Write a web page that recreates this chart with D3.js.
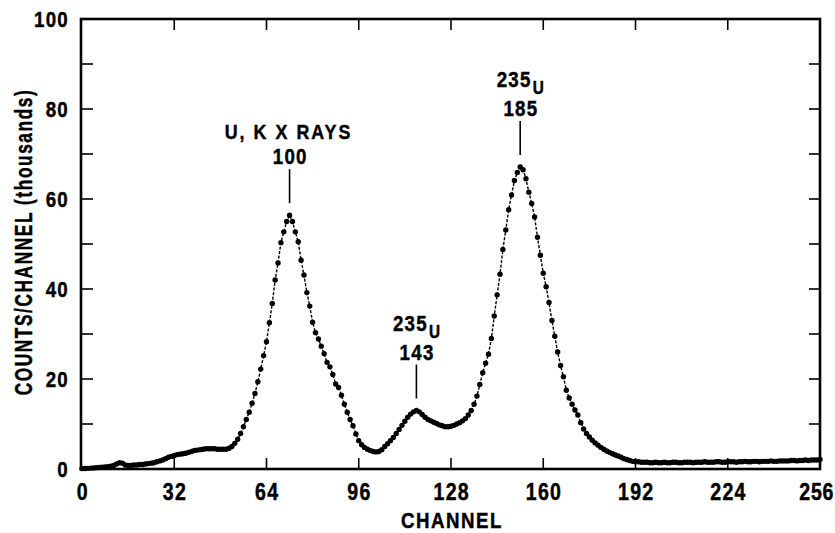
<!DOCTYPE html>
<html>
<head>
<meta charset="utf-8">
<script src="https://cdn.jsdelivr.net/npm/d3@7/dist/d3.min.js"></script>
<style>
  body { margin: 0; background: #fff; }
  text { font-family: "Liberation Sans", Arial, Helvetica, sans-serif; font-weight: bold; fill: #000; stroke: #000; stroke-width: 0.45px; }
</style>
</head>
<body>
<svg id="chart" width="835" height="533"></svg>
<script>
// Gamma spectrum: counts per channel (thousands), channels 0..256
const counts = [
  0.1, 0.1, 0.15, 0.2, 0.25, 0.3, 0.35, 0.4, 0.45, 0.5,
  0.6, 0.8, 1.1, 1.4, 1.3, 0.9, 0.8, 0.8, 0.9, 0.9,
  1.0, 1.0, 1.1, 1.2, 1.3, 1.4, 1.6, 1.8, 2.0, 2.3,
  2.6, 2.8, 3.0, 3.2, 3.3, 3.4, 3.5, 3.7, 3.9, 4.1,
  4.2, 4.3, 4.4, 4.5, 4.5, 4.5, 4.5, 4.4, 4.4, 4.4,
  4.4, 4.6, 5.0, 5.7, 6.6, 7.9, 9.4, 11.0, 12.6, 14.6,
  16.8, 19.4, 22.2, 25.2, 28.3, 32.5, 36.8, 42.0, 45.8, 50.3,
  52.7, 55.0, 56.4, 55.0, 52.7, 50.5, 46.4, 43.1, 39.2, 36.2,
  32.6, 30.3, 28.9, 27.3, 25.6, 23.7, 22.7, 21.0, 18.9, 18.1,
  16.4, 14.4, 12.6, 11.0, 9.6, 7.8, 6.3, 5.4, 4.8, 4.4,
  4.1, 3.9, 3.8, 3.9, 4.3, 5.0, 5.6, 6.3, 7.0, 7.9,
  8.8, 9.7, 10.6, 11.5, 12.2, 12.7, 13.0, 12.7, 12.1, 11.5,
  11.0, 10.7, 10.4, 10.1, 9.8, 9.6, 9.4, 9.4, 9.5, 9.7,
  10.0, 10.3, 10.7, 11.2, 12.0, 13.0, 14.4, 16.2, 18.8, 21.4,
  23.5, 25.5, 29.0, 34.0, 38.7, 43.3, 48.8, 53.1, 57.6, 60.9,
  64.1, 65.9, 67.1, 66.5, 64.5, 61.5, 59.0, 56.0, 51.5, 47.5,
  43.5, 40.5, 37.0, 33.0, 29.5, 26.0, 23.0, 20.5, 17.5, 15.8,
  14.4, 13.1, 12.0, 10.3, 8.9, 7.9, 7.1, 6.4, 5.8, 5.3,
  4.8, 4.4, 4.0, 3.7, 3.4, 3.1, 2.9, 2.6, 2.3, 2.1,
  1.9, 1.7, 1.6, 1.6, 1.5, 1.5, 1.5, 1.4, 1.4, 1.5,
  1.4, 1.4, 1.5, 1.4, 1.4, 1.5, 1.5, 1.4, 1.4, 1.5,
  1.5, 1.5, 1.4, 1.5, 1.5, 1.5, 1.6, 1.5, 1.5, 1.5,
  1.6, 1.6, 1.5, 1.5, 1.6, 1.6, 1.6, 1.5, 1.6, 1.6,
  1.7, 1.6, 1.6, 1.7, 1.7, 1.6, 1.7, 1.7, 1.7, 1.8,
  1.7, 1.7, 1.8, 1.8, 1.8, 1.8, 1.9, 1.9, 1.8, 1.9,
  1.9, 2.0, 1.9, 2.0, 2.0, 2.0, 2.1
];
const channels = counts.map((_, i) => i);

const xTicks = [0, 32, 64, 96, 128, 160, 192, 224, 256];
const yTicks = [0, 20, 40, 60, 80, 100];
const yTicksMinor = [10, 30, 50, 70, 90];

// Peak annotations: channel of the peak, first label line, energy (keV)
const peakChannels = [72, 116, 152];
const peakIsotopes = ["U, K X RAYS", "235", "235"];
const peakElements = ["", "U", "U"];
const peakEnergies = ["100", "143", "185"];

const W = 835;
const svg = d3.select("#chart");
const x = d3.scaleLinear().domain([0, 256]).range([82, 820]);
const y = d3.scaleLinear().domain([0, 100]).range([469, 19]);

const tickLen = 11;

// Condensed bold lettering: horizontally squeezed text placed at (tx, ty)
function label(parent, tx, ty, str, o) {
  const g = parent.append("g")
    .attr("transform", `translate(${tx},${ty}) ${o.rotate ? "rotate(" + o.rotate + ")" : ""} scale(${o.sx || 0.85},1)`);
  return g.append("text")
    .attr("text-anchor", o.anchor || "middle")
    .attr("font-size", o.size)
    .attr("letter-spacing", o.ls || 0)
    .text(str);
}

// frame
svg.append("rect")
  .attr("x", x(0) - 1).attr("y", y(100))
  .attr("width", x(256) - x(0) + 1).attr("height", y(0) - y(100))
  .attr("fill", "none").attr("stroke", "#000").attr("stroke-width", 2.6);

// inward ticks: bottom & top (x), left & right (y)
const axisG = svg.append("g").attr("stroke", "#000").attr("stroke-width", 1.6);
xTicks.slice(1, -1).forEach(t => {
  axisG.append("line").attr("x1", x(t)).attr("x2", x(t)).attr("y1", y(0)).attr("y2", y(0) - tickLen);
  axisG.append("line").attr("x1", x(t)).attr("x2", x(t)).attr("y1", y(100)).attr("y2", y(100) + tickLen);
});
yTicks.concat(yTicksMinor).filter(t => t > 0 && t < 100).forEach(t => {
  axisG.append("line").attr("x1", x(0)).attr("x2", x(0) + tickLen).attr("y1", y(t)).attr("y2", y(t));
  axisG.append("line").attr("x1", x(256)).attr("x2", x(256) - tickLen).attr("y1", y(t)).attr("y2", y(t));
});

// tick labels (the last one is kept inside the canvas edge)
const xLab = svg.append("g");
xTicks.forEach((t, i) => {
  if (i === xTicks.length - 1) label(xLab, W - 1, 500, t, { size: 23, ls: 0.8, anchor: "end" });
  else label(xLab, x(t) + 0.7, 500, t, { size: 23, ls: 1.5 });
});
const yLab = svg.append("g");
yTicks.forEach(t => label(yLab, 69, y(t) + 8, t, { size: 22, ls: 1.5, anchor: "end" }));

// axis titles
label(svg, x(128) + 1, 528, "CHANNEL", { size: 22, ls: 1.8 });
label(svg, 32, 242, "COUNTS/CHANNEL (thousands)", { size: 24, ls: 2.2, sx: 0.72, rotate: -90 });

// spectrum: dashed connecting line + dots
const line = d3.line().x((d, i) => x(channels[i])).y(d => y(d));
svg.append("path")
  .datum(counts)
  .attr("d", line)
  .attr("fill", "none").attr("stroke", "#000")
  .attr("stroke-width", 1.4).attr("stroke-dasharray", "3,1.6");
svg.append("g").selectAll("circle").data(counts).join("circle")
  .attr("cx", (d, i) => x(channels[i])).attr("cy", d => y(d))
  .attr("r", 2.7).attr("fill", "#000");

// peak annotations
const ann = svg.append("g");
peakChannels.forEach((ch, k) => {
  const px = x(ch), py = y(counts[ch]);
  const lineBottom = py - 12, lineTop = py - 46;
  ann.append("line")
    .attr("x1", px).attr("x2", px).attr("y1", lineTop).attr("y2", lineBottom)
    .attr("stroke", "#000").attr("stroke-width", 1.6);
  label(ann, px + 0.7, lineTop - 5, peakEnergies[k], { size: 22, ls: 1.5 });
  if (peakElements[k]) {
    label(ann, px - 6, lineTop - 34, peakIsotopes[k], { size: 22, ls: 1.5 });
    label(ann, px + 18, lineTop - 27, peakElements[k], { size: 18, ls: 0 });
  } else {
    label(ann, px - 1, lineTop - 30, peakIsotopes[k], { size: 21, ls: 2.4 });
  }
});
</script>
</body>
</html>
